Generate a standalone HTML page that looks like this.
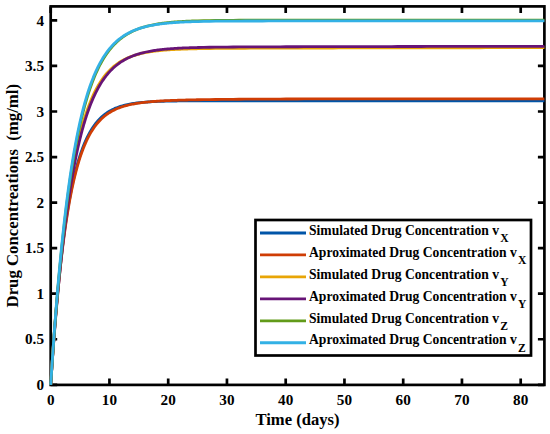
<!DOCTYPE html>
<html><head><meta charset="utf-8"><style>
html,body{margin:0;padding:0;background:#fff;width:550px;height:434px;overflow:hidden}
svg{display:block}
text{font-family:"Liberation Serif",serif}
</style></head><body>
<svg width="550" height="434" viewBox="0 0 550 434"><rect width="550" height="434" fill="#fff"/><path d="M50.70,384.90V378.40M50.70,6.40V12.90M109.45,384.90V378.40M109.45,6.40V12.90M168.20,384.90V378.40M168.20,6.40V12.90M226.95,384.90V378.40M226.95,6.40V12.90M285.70,384.90V378.40M285.70,6.40V12.90M344.45,384.90V378.40M344.45,6.40V12.90M403.20,384.90V378.40M403.20,6.40V12.90M461.95,384.90V378.40M461.95,6.40V12.90M520.70,384.90V378.40M520.70,6.40V12.90M50.70,384.80H57.20M544.40,384.80H537.90M50.70,339.25H57.20M544.40,339.25H537.90M50.70,293.70H57.20M544.40,293.70H537.90M50.70,248.15H57.20M544.40,248.15H537.90M50.70,202.60H57.20M544.40,202.60H537.90M50.70,157.05H57.20M544.40,157.05H537.90M50.70,111.50H57.20M544.40,111.50H537.90M50.70,65.95H57.20M544.40,65.95H537.90M50.70,20.40H57.20M544.40,20.40H537.90" stroke="#000" stroke-width="2.7" fill="none"/><rect x="50.7" y="6.4" width="493.70" height="378.50" fill="none" stroke="#000" stroke-width="2.7" stroke-linejoin="miter"/><g fill="none" stroke-linejoin="round" stroke-linecap="butt"><path d="M50.70,384.80 L50.99,380.15 L51.29,375.58 L51.58,371.08 L51.88,366.66 L52.17,362.31 L52.46,358.03 L52.76,353.82 L53.05,349.67 L53.34,345.60 L53.64,341.59 L53.93,337.65 L54.23,333.78 L54.52,329.96 L54.81,326.21 L55.11,322.52 L55.40,318.89 L55.69,315.32 L55.99,311.81 L56.28,308.36 L56.58,304.96 L56.87,301.62 L57.16,298.33 L57.46,295.10 L57.75,291.92 L58.04,288.79 L58.34,285.71 L58.63,282.69 L58.93,279.71 L59.22,276.78 L59.51,273.90 L59.81,271.07 L60.10,268.28 L60.39,265.54 L60.69,262.84 L60.98,260.19 L61.28,257.58 L61.57,255.01 L61.86,252.49 L62.16,250.00 L62.45,247.56 L62.74,245.16 L63.04,242.80 L63.33,240.47 L63.62,238.18 L63.92,235.94 L64.21,233.72 L64.51,231.55 L64.80,229.41 L65.09,227.30 L65.39,225.23 L65.68,223.19 L65.97,221.19 L66.27,219.22 L66.56,217.28 L66.86,215.37 L67.15,213.50 L67.44,211.65 L67.74,209.84 L68.03,208.05 L68.32,206.30 L68.62,204.57 L68.91,202.87 L69.21,201.20 L69.50,199.56 L69.79,197.94 L70.09,196.35 L70.38,194.78 L70.67,193.24 L70.97,191.73 L71.26,190.24 L71.56,188.78 L71.85,187.34 L72.14,185.92 L72.44,184.53 L72.73,183.16 L73.02,181.81 L73.32,180.48 L73.61,179.18 L73.91,177.89 L74.20,176.63 L74.49,175.39 L74.79,174.17 L75.08,172.97 L75.37,171.78 L75.67,170.62 L75.96,169.48 L76.26,168.35 L76.55,167.25 L76.84,166.16 L77.14,165.09 L77.43,164.04 L77.72,163.00 L78.02,161.98 L78.31,160.98 L78.61,159.99 L78.90,159.02 L79.19,158.07 L79.49,157.13 L79.78,156.21 L80.07,155.30 L80.37,154.41 L80.66,153.53 L80.96,152.67 L81.25,151.82 L81.54,150.98 L81.84,150.16 L82.13,149.35 L82.42,148.56 L82.72,147.77 L83.01,147.00 L83.31,146.25 L83.60,145.50 L83.89,144.77 L84.19,144.05 L84.48,143.34 L84.77,142.64 L85.07,141.96 L85.36,141.28 L85.66,140.62 L85.95,139.97 L86.24,139.33 L87.42,136.86 L88.59,134.56 L89.77,132.40 L90.94,130.38 L92.12,128.48 L93.29,126.71 L94.47,125.05 L95.64,123.50 L96.82,122.05 L97.99,120.69 L99.17,119.42 L100.34,118.22 L101.52,117.11 L102.69,116.06 L103.87,115.08 L105.04,114.17 L106.22,113.31 L107.39,112.51 L108.57,111.76 L109.74,111.06 L110.92,110.40 L112.09,109.78 L113.27,109.20 L114.44,108.66 L115.62,108.16 L116.79,107.69 L117.97,107.24 L119.14,106.83 L120.32,106.44 L121.49,106.08 L122.67,105.74 L123.84,105.42 L125.02,105.12 L126.19,104.84 L127.37,104.58 L128.54,104.33 L129.72,104.11 L130.89,103.89 L132.07,103.69 L133.24,103.50 L134.42,103.33 L135.59,103.16 L136.77,103.01 L137.94,102.86 L139.12,102.73 L140.29,102.60 L141.47,102.48 L142.64,102.37 L143.82,102.27 L144.99,102.17 L146.17,102.08 L147.34,102.00 L148.52,101.92 L149.69,101.84 L150.87,101.77 L152.04,101.71 L153.22,101.65 L154.39,101.59 L155.57,101.54 L156.74,101.49 L157.92,101.44 L159.09,101.39 L160.27,101.35 L161.44,101.31 L162.62,101.28 L163.79,101.25 L164.97,101.21 L166.14,101.18 L167.32,101.16 L168.49,101.13 L169.67,101.11 L170.84,101.08 L172.02,101.06 L173.19,101.04 L174.37,101.02 L175.54,101.01 L176.72,100.99 L177.89,100.97 L179.07,100.96 L180.24,100.95 L181.42,100.93 L182.59,100.92 L183.77,100.91 L184.94,100.90 L186.12,100.89 L187.29,100.88 L188.47,100.87 L189.64,100.87 L190.82,100.86 L191.99,100.85 L193.17,100.85 L194.34,100.84 L195.52,100.83 L196.69,100.83 L197.87,100.82 L203.74,100.80 L209.62,100.79 L215.49,100.78 L221.37,100.77 L227.24,100.76 L233.12,100.76 L238.99,100.76 L244.87,100.76 L250.74,100.75 L256.62,100.75 L262.49,100.75 L268.37,100.75 L274.24,100.75 L280.12,100.75 L285.99,100.75 L291.87,100.75 L297.74,100.75 L303.62,100.75 L309.49,100.75 L315.37,100.75 L321.24,100.75 L327.12,100.75 L332.99,100.75 L338.87,100.75 L344.74,100.75 L350.62,100.75 L356.49,100.75 L362.37,100.75 L368.24,100.75 L374.12,100.75 L379.99,100.75 L385.87,100.75 L391.74,100.75 L397.62,100.75 L403.49,100.75 L409.37,100.75 L415.24,100.75 L421.12,100.75 L426.99,100.75 L432.87,100.75 L438.74,100.75 L444.62,100.75 L450.49,100.75 L456.37,100.75 L462.24,100.75 L468.12,100.75 L473.99,100.75 L479.87,100.75 L485.74,100.75 L491.62,100.75 L497.49,100.75 L503.37,100.75 L509.24,100.75 L515.12,100.75 L520.99,100.75 L526.87,100.75 L532.74,100.75 L538.62,100.75 L544.40,100.75" stroke="#0055A8" stroke-width="2.8"/><path d="M50.70,384.80 L50.99,380.20 L51.29,375.68 L51.58,371.23 L51.88,366.86 L52.17,362.55 L52.46,358.32 L52.76,354.15 L53.05,350.06 L53.34,346.03 L53.64,342.07 L53.93,338.17 L54.23,334.33 L54.52,330.56 L54.81,326.85 L55.11,323.20 L55.40,319.61 L55.69,316.08 L55.99,312.61 L56.28,309.19 L56.58,305.83 L56.87,302.53 L57.16,299.27 L57.46,296.08 L57.75,292.93 L58.04,289.83 L58.34,286.79 L58.63,283.80 L58.93,280.85 L59.22,277.95 L59.51,275.10 L59.81,272.30 L60.10,269.54 L60.39,266.83 L60.69,264.16 L60.98,261.54 L61.28,258.95 L61.57,256.41 L61.86,253.91 L62.16,251.46 L62.45,249.04 L62.74,246.66 L63.04,244.32 L63.33,242.02 L63.62,239.75 L63.92,237.53 L64.21,235.34 L64.51,233.18 L64.80,231.06 L65.09,228.98 L65.39,226.92 L65.68,224.91 L65.97,222.92 L66.27,220.97 L66.56,219.05 L66.86,217.16 L67.15,215.30 L67.44,213.47 L67.74,211.67 L68.03,209.90 L68.32,208.16 L68.62,206.44 L68.91,204.76 L69.21,203.10 L69.50,201.47 L69.79,199.87 L70.09,198.29 L70.38,196.73 L70.67,195.21 L70.97,193.70 L71.26,192.23 L71.56,190.77 L71.85,189.34 L72.14,187.93 L72.44,186.55 L72.73,185.18 L73.02,183.84 L73.32,182.53 L73.61,181.23 L73.91,179.95 L74.20,178.70 L74.49,177.46 L74.79,176.25 L75.08,175.05 L75.37,173.87 L75.67,172.72 L75.96,171.58 L76.26,170.46 L76.55,169.35 L76.84,168.27 L77.14,167.20 L77.43,166.15 L77.72,165.12 L78.02,164.10 L78.31,163.10 L78.61,162.12 L78.90,161.15 L79.19,160.20 L79.49,159.26 L79.78,158.34 L80.07,157.44 L80.37,156.54 L80.66,155.66 L80.96,154.80 L81.25,153.95 L81.54,153.11 L81.84,152.29 L82.13,151.48 L82.42,150.69 L82.72,149.90 L83.01,149.13 L83.31,148.37 L83.60,147.62 L83.89,146.89 L84.19,146.17 L84.48,145.46 L84.77,144.76 L85.07,144.07 L85.36,143.39 L85.66,142.72 L85.95,142.07 L86.24,141.42 L87.42,138.94 L88.59,136.61 L89.77,134.43 L90.94,132.38 L92.12,130.46 L93.29,128.66 L94.47,126.97 L95.64,125.39 L96.82,123.90 L97.99,122.50 L99.17,121.19 L100.34,119.96 L101.52,118.80 L102.69,117.72 L103.87,116.70 L105.04,115.74 L106.22,114.84 L107.39,113.99 L108.57,113.20 L109.74,112.45 L110.92,111.75 L112.09,111.09 L113.27,110.47 L114.44,109.88 L115.62,109.33 L116.79,108.81 L117.97,108.32 L119.14,107.86 L120.32,107.43 L121.49,107.02 L122.67,106.63 L123.84,106.27 L125.02,105.93 L126.19,105.60 L127.37,105.30 L128.54,105.01 L129.72,104.74 L130.89,104.48 L132.07,104.24 L133.24,104.01 L134.42,103.79 L135.59,103.58 L136.77,103.39 L137.94,103.20 L139.12,103.03 L140.29,102.86 L141.47,102.71 L142.64,102.56 L143.82,102.42 L144.99,102.28 L146.17,102.15 L147.34,102.03 L148.52,101.92 L149.69,101.81 L150.87,101.70 L152.04,101.60 L153.22,101.51 L154.39,101.42 L155.57,101.33 L156.74,101.25 L157.92,101.17 L159.09,101.09 L160.27,101.02 L161.44,100.95 L162.62,100.89 L163.79,100.82 L164.97,100.76 L166.14,100.71 L167.32,100.65 L168.49,100.60 L169.67,100.55 L170.84,100.50 L172.02,100.45 L173.19,100.41 L174.37,100.36 L175.54,100.32 L176.72,100.28 L177.89,100.24 L179.07,100.20 L180.24,100.17 L181.42,100.13 L182.59,100.10 L183.77,100.07 L184.94,100.03 L186.12,100.00 L187.29,99.98 L188.47,99.95 L189.64,99.92 L190.82,99.89 L191.99,99.87 L193.17,99.84 L194.34,99.82 L195.52,99.79 L196.69,99.77 L197.87,99.75 L203.74,99.65 L209.62,99.56 L215.49,99.48 L221.37,99.42 L227.24,99.36 L233.12,99.30 L238.99,99.26 L244.87,99.21 L250.74,99.18 L256.62,99.14 L262.49,99.11 L268.37,99.08 L274.24,99.06 L280.12,99.04 L285.99,99.02 L291.87,99.00 L297.74,98.98 L303.62,98.97 L309.49,98.96 L315.37,98.95 L321.24,98.93 L327.12,98.93 L332.99,98.92 L338.87,98.91 L344.74,98.90 L350.62,98.90 L356.49,98.89 L362.37,98.88 L368.24,98.88 L374.12,98.88 L379.99,98.87 L385.87,98.87 L391.74,98.87 L397.62,98.86 L403.49,98.86 L409.37,98.86 L415.24,98.86 L421.12,98.85 L426.99,98.85 L432.87,98.85 L438.74,98.85 L444.62,98.85 L450.49,98.85 L456.37,98.85 L462.24,98.85 L468.12,98.84 L473.99,98.84 L479.87,98.84 L485.74,98.84 L491.62,98.84 L497.49,98.84 L503.37,98.84 L509.24,98.84 L515.12,98.84 L520.99,98.84 L526.87,98.84 L532.74,98.84 L538.62,98.84 L544.40,98.84" stroke="#CF3D05" stroke-width="2.8"/><path d="M50.70,384.80 L50.99,380.23 L51.29,375.73 L51.58,371.29 L51.88,366.90 L52.17,362.58 L52.46,358.31 L52.76,354.11 L53.05,349.96 L53.34,345.87 L53.64,341.83 L53.93,337.84 L54.23,333.92 L54.52,330.04 L54.81,326.22 L55.11,322.45 L55.40,318.73 L55.69,315.06 L55.99,311.44 L56.28,307.87 L56.58,304.35 L56.87,300.88 L57.16,297.45 L57.46,294.07 L57.75,290.74 L58.04,287.45 L58.34,284.21 L58.63,281.01 L58.93,277.85 L59.22,274.74 L59.51,271.67 L59.81,268.64 L60.10,265.65 L60.39,262.70 L60.69,259.80 L60.98,256.93 L61.28,254.10 L61.57,251.31 L61.86,248.56 L62.16,245.84 L62.45,243.16 L62.74,240.52 L63.04,237.91 L63.33,235.34 L63.62,232.81 L63.92,230.31 L64.21,227.84 L64.51,225.41 L64.80,223.01 L65.09,220.64 L65.39,218.30 L65.68,216.00 L65.97,213.73 L66.27,211.48 L66.56,209.27 L66.86,207.09 L67.15,204.94 L67.44,202.82 L67.74,200.72 L68.03,198.66 L68.32,196.62 L68.62,194.61 L68.91,192.63 L69.21,190.67 L69.50,188.75 L69.79,186.84 L70.09,184.97 L70.38,183.12 L70.67,181.29 L70.97,179.49 L71.26,177.71 L71.56,175.96 L71.85,174.23 L72.14,172.53 L72.44,170.84 L72.73,169.18 L73.02,167.55 L73.32,165.93 L73.61,164.34 L73.91,162.77 L74.20,161.22 L74.49,159.69 L74.79,158.18 L75.08,156.70 L75.37,155.23 L75.67,153.78 L75.96,152.35 L76.26,150.95 L76.55,149.56 L76.84,148.19 L77.14,146.84 L77.43,145.50 L77.72,144.19 L78.02,142.89 L78.31,141.61 L78.61,140.35 L78.90,139.10 L79.19,137.88 L79.49,136.66 L79.78,135.47 L80.07,134.29 L80.37,133.13 L80.66,131.98 L80.96,130.85 L81.25,129.73 L81.54,128.63 L81.84,127.55 L82.13,126.48 L82.42,125.42 L82.72,124.38 L83.01,123.35 L83.31,122.33 L83.60,121.33 L83.89,120.35 L84.19,119.37 L84.48,118.41 L84.77,117.47 L85.07,116.53 L85.36,115.61 L85.66,114.70 L85.95,113.80 L86.24,112.92 L87.42,109.50 L88.59,106.26 L89.77,103.20 L90.94,100.29 L92.12,97.54 L93.29,94.94 L94.47,92.48 L95.64,90.14 L96.82,87.94 L97.99,85.84 L99.17,83.86 L100.34,81.99 L101.52,80.21 L102.69,78.53 L103.87,76.94 L105.04,75.43 L106.22,74.01 L107.39,72.65 L108.57,71.37 L109.74,70.16 L110.92,69.02 L112.09,67.93 L113.27,66.90 L114.44,65.92 L115.62,65.00 L116.79,64.13 L117.97,63.30 L119.14,62.52 L120.32,61.77 L121.49,61.07 L122.67,60.40 L123.84,59.77 L125.02,59.18 L126.19,58.61 L127.37,58.08 L128.54,57.57 L129.72,57.09 L130.89,56.63 L132.07,56.20 L133.24,55.79 L134.42,55.40 L135.59,55.04 L136.77,54.69 L137.94,54.36 L139.12,54.05 L140.29,53.75 L141.47,53.47 L142.64,53.21 L143.82,52.96 L144.99,52.72 L146.17,52.49 L147.34,52.28 L148.52,52.07 L149.69,51.88 L150.87,51.70 L152.04,51.53 L153.22,51.36 L154.39,51.21 L155.57,51.06 L156.74,50.92 L157.92,50.79 L159.09,50.66 L160.27,50.54 L161.44,50.43 L162.62,50.32 L163.79,50.22 L164.97,50.12 L166.14,50.03 L167.32,49.94 L168.49,49.86 L169.67,49.78 L170.84,49.71 L172.02,49.64 L173.19,49.57 L174.37,49.51 L175.54,49.45 L176.72,49.39 L177.89,49.33 L179.07,49.28 L180.24,49.23 L181.42,49.18 L182.59,49.14 L183.77,49.10 L184.94,49.06 L186.12,49.02 L187.29,48.98 L188.47,48.95 L189.64,48.91 L190.82,48.88 L191.99,48.85 L193.17,48.82 L194.34,48.79 L195.52,48.77 L196.69,48.74 L197.87,48.72 L203.74,48.61 L209.62,48.53 L215.49,48.46 L221.37,48.40 L227.24,48.36 L233.12,48.32 L238.99,48.28 L244.87,48.25 L250.74,48.22 L256.62,48.20 L262.49,48.18 L268.37,48.16 L274.24,48.14 L280.12,48.12 L285.99,48.10 L291.87,48.09 L297.74,48.07 L303.62,48.05 L309.49,48.04 L315.37,48.03 L321.24,48.01 L327.12,48.00 L332.99,47.98 L338.87,47.97 L344.74,47.96 L350.62,47.95 L356.49,47.93 L362.37,47.92 L368.24,47.91 L374.12,47.90 L379.99,47.89 L385.87,47.88 L391.74,47.87 L397.62,47.86 L403.49,47.85 L409.37,47.84 L415.24,47.83 L421.12,47.82 L426.99,47.81 L432.87,47.80 L438.74,47.79 L444.62,47.78 L450.49,47.77 L456.37,47.76 L462.24,47.76 L468.12,47.75 L473.99,47.74 L479.87,47.73 L485.74,47.72 L491.62,47.72 L497.49,47.71 L503.37,47.70 L509.24,47.70 L515.12,47.69 L520.99,47.68 L526.87,47.68 L532.74,47.67 L538.62,47.66 L544.40,47.66" stroke="#E8A506" stroke-width="2.8"/><path d="M50.70,384.80 L50.99,380.41 L51.29,376.08 L51.58,371.80 L51.88,367.58 L52.17,363.42 L52.46,359.31 L52.76,355.25 L53.05,351.25 L53.34,347.29 L53.64,343.39 L53.93,339.54 L54.23,335.74 L54.52,331.99 L54.81,328.29 L55.11,324.64 L55.40,321.03 L55.69,317.47 L55.99,313.96 L56.28,310.49 L56.58,307.07 L56.87,303.69 L57.16,300.36 L57.46,297.07 L57.75,293.82 L58.04,290.61 L58.34,287.45 L58.63,284.33 L58.93,281.24 L59.22,278.20 L59.51,275.20 L59.81,272.24 L60.10,269.31 L60.39,266.43 L60.69,263.58 L60.98,260.76 L61.28,257.99 L61.57,255.25 L61.86,252.55 L62.16,249.88 L62.45,247.24 L62.74,244.64 L63.04,242.08 L63.33,239.55 L63.62,237.05 L63.92,234.58 L64.21,232.14 L64.51,229.74 L64.80,227.37 L65.09,225.03 L65.39,222.72 L65.68,220.44 L65.97,218.19 L66.27,215.96 L66.56,213.77 L66.86,211.61 L67.15,209.47 L67.44,207.36 L67.74,205.28 L68.03,203.23 L68.32,201.20 L68.62,199.20 L68.91,197.23 L69.21,195.28 L69.50,193.35 L69.79,191.46 L70.09,189.58 L70.38,187.73 L70.67,185.91 L70.97,184.10 L71.26,182.33 L71.56,180.57 L71.85,178.84 L72.14,177.13 L72.44,175.44 L72.73,173.77 L73.02,172.13 L73.32,170.51 L73.61,168.91 L73.91,167.33 L74.20,165.77 L74.49,164.23 L74.79,162.71 L75.08,161.21 L75.37,159.72 L75.67,158.26 L75.96,156.82 L76.26,155.40 L76.55,153.99 L76.84,152.61 L77.14,151.24 L77.43,149.89 L77.72,148.55 L78.02,147.24 L78.31,145.94 L78.61,144.65 L78.90,143.39 L79.19,142.14 L79.49,140.91 L79.78,139.69 L80.07,138.49 L80.37,137.30 L80.66,136.13 L80.96,134.98 L81.25,133.84 L81.54,132.72 L81.84,131.61 L82.13,130.51 L82.42,129.43 L82.72,128.36 L83.01,127.31 L83.31,126.27 L83.60,125.24 L83.89,124.23 L84.19,123.23 L84.48,122.24 L84.77,121.27 L85.07,120.30 L85.36,119.36 L85.66,118.42 L85.95,117.49 L86.24,116.58 L87.42,113.05 L88.59,109.70 L89.77,106.52 L90.94,103.50 L92.12,100.63 L93.29,97.91 L94.47,95.33 L95.64,92.88 L96.82,90.55 L97.99,88.35 L99.17,86.25 L100.34,84.27 L101.52,82.38 L102.69,80.59 L103.87,78.89 L105.04,77.28 L106.22,75.75 L107.39,74.30 L108.57,72.92 L109.74,71.61 L110.92,70.37 L112.09,69.19 L113.27,68.07 L114.44,67.01 L115.62,66.00 L116.79,65.04 L117.97,64.13 L119.14,63.27 L120.32,62.45 L121.49,61.67 L122.67,60.94 L123.84,60.24 L125.02,59.57 L126.19,58.94 L127.37,58.34 L128.54,57.77 L129.72,57.23 L130.89,56.72 L132.07,56.23 L133.24,55.77 L134.42,55.33 L135.59,54.92 L136.77,54.52 L137.94,54.15 L139.12,53.79 L140.29,53.45 L141.47,53.13 L142.64,52.82 L143.82,52.53 L144.99,52.26 L146.17,52.00 L147.34,51.75 L148.52,51.51 L149.69,51.29 L150.87,51.07 L152.04,50.87 L153.22,50.68 L154.39,50.50 L155.57,50.32 L156.74,50.16 L157.92,50.00 L159.09,49.85 L160.27,49.71 L161.44,49.58 L162.62,49.45 L163.79,49.33 L164.97,49.21 L166.14,49.10 L167.32,49.00 L168.49,48.90 L169.67,48.80 L170.84,48.71 L172.02,48.63 L173.19,48.55 L174.37,48.47 L175.54,48.39 L176.72,48.32 L177.89,48.26 L179.07,48.19 L180.24,48.13 L181.42,48.08 L182.59,48.02 L183.77,47.97 L184.94,47.92 L186.12,47.87 L187.29,47.83 L188.47,47.78 L189.64,47.74 L190.82,47.70 L191.99,47.66 L193.17,47.63 L194.34,47.59 L195.52,47.56 L196.69,47.53 L197.87,47.50 L203.74,47.37 L209.62,47.27 L215.49,47.18 L221.37,47.11 L227.24,47.06 L233.12,47.01 L238.99,46.97 L244.87,46.93 L250.74,46.90 L256.62,46.87 L262.49,46.85 L268.37,46.83 L274.24,46.81 L280.12,46.79 L285.99,46.77 L291.87,46.75 L297.74,46.74 L303.62,46.72 L309.49,46.70 L315.37,46.69 L321.24,46.68 L327.12,46.66 L332.99,46.65 L338.87,46.64 L344.74,46.62 L350.62,46.61 L356.49,46.60 L362.37,46.59 L368.24,46.57 L374.12,46.56 L379.99,46.55 L385.87,46.54 L391.74,46.53 L397.62,46.52 L403.49,46.51 L409.37,46.50 L415.24,46.49 L421.12,46.48 L426.99,46.47 L432.87,46.46 L438.74,46.45 L444.62,46.44 L450.49,46.43 L456.37,46.42 L462.24,46.42 L468.12,46.41 L473.99,46.40 L479.87,46.39 L485.74,46.38 L491.62,46.38 L497.49,46.37 L503.37,46.36 L509.24,46.35 L515.12,46.35 L520.99,46.34 L526.87,46.33 L532.74,46.33 L538.62,46.32 L544.40,46.31" stroke="#671477" stroke-width="2.8"/><path d="M50.70,384.80 L50.99,380.27 L51.29,375.80 L51.58,371.38 L51.88,367.01 L52.17,362.71 L52.46,358.45 L52.76,354.25 L53.05,350.10 L53.34,346.00 L53.64,341.95 L53.93,337.95 L54.23,334.00 L54.52,330.10 L54.81,326.25 L55.11,322.45 L55.40,318.70 L55.69,314.99 L55.99,311.32 L56.28,307.71 L56.58,304.13 L56.87,300.61 L57.16,297.12 L57.46,293.68 L57.75,290.28 L58.04,286.93 L58.34,283.61 L58.63,280.34 L58.93,277.11 L59.22,273.92 L59.51,270.76 L59.81,267.65 L60.10,264.57 L60.39,261.54 L60.69,258.54 L60.98,255.58 L61.28,252.65 L61.57,249.76 L61.86,246.91 L62.16,244.09 L62.45,241.31 L62.74,238.56 L63.04,235.85 L63.33,233.17 L63.62,230.52 L63.92,227.91 L64.21,225.33 L64.51,222.78 L64.80,220.26 L65.09,217.78 L65.39,215.32 L65.68,212.90 L65.97,210.50 L66.27,208.14 L66.56,205.80 L66.86,203.50 L67.15,201.22 L67.44,198.97 L67.74,196.75 L68.03,194.55 L68.32,192.39 L68.62,190.25 L68.91,188.13 L69.21,186.05 L69.50,183.98 L69.79,181.95 L70.09,179.94 L70.38,177.95 L70.67,175.99 L70.97,174.06 L71.26,172.15 L71.56,170.26 L71.85,168.39 L72.14,166.55 L72.44,164.73 L72.73,162.93 L73.02,161.16 L73.32,159.41 L73.61,157.68 L73.91,155.97 L74.20,154.28 L74.49,152.62 L74.79,150.97 L75.08,149.34 L75.37,147.74 L75.67,146.15 L75.96,144.59 L76.26,143.04 L76.55,141.52 L76.84,140.01 L77.14,138.52 L77.43,137.05 L77.72,135.60 L78.02,134.16 L78.31,132.74 L78.61,131.35 L78.90,129.96 L79.19,128.60 L79.49,127.25 L79.78,125.92 L80.07,124.61 L80.37,123.31 L80.66,122.03 L80.96,120.76 L81.25,119.51 L81.54,118.28 L81.84,117.06 L82.13,115.85 L82.42,114.66 L82.72,113.49 L83.01,112.33 L83.31,111.19 L83.60,110.05 L83.89,108.94 L84.19,107.83 L84.48,106.74 L84.77,105.67 L85.07,104.61 L85.36,103.56 L85.66,102.52 L85.95,101.50 L86.24,100.49 L87.42,96.57 L88.59,92.84 L89.77,89.29 L90.94,85.92 L92.12,82.71 L93.29,79.66 L94.47,76.75 L95.64,73.99 L96.82,71.37 L97.99,68.87 L99.17,66.49 L100.34,64.23 L101.52,62.08 L102.69,60.03 L103.87,58.09 L105.04,56.23 L106.22,54.47 L107.39,52.80 L108.57,51.20 L109.74,49.69 L110.92,48.25 L112.09,46.88 L113.27,45.57 L114.44,44.33 L115.62,43.15 L116.79,42.03 L117.97,40.96 L119.14,39.94 L120.32,38.98 L121.49,38.06 L122.67,37.18 L123.84,36.35 L125.02,35.56 L126.19,34.81 L127.37,34.09 L128.54,33.41 L129.72,32.76 L130.89,32.15 L132.07,31.56 L133.24,31.00 L134.42,30.47 L135.59,29.97 L136.77,29.49 L137.94,29.03 L139.12,28.60 L140.29,28.18 L141.47,27.79 L142.64,27.42 L143.82,27.06 L144.99,26.72 L146.17,26.40 L147.34,26.10 L148.52,25.80 L149.69,25.53 L150.87,25.26 L152.04,25.01 L153.22,24.78 L154.39,24.55 L155.57,24.33 L156.74,24.13 L157.92,23.93 L159.09,23.75 L160.27,23.57 L161.44,23.40 L162.62,23.24 L163.79,23.09 L164.97,22.95 L166.14,22.81 L167.32,22.68 L168.49,22.55 L169.67,22.43 L170.84,22.32 L172.02,22.22 L173.19,22.11 L174.37,22.02 L175.54,21.92 L176.72,21.84 L177.89,21.75 L179.07,21.67 L180.24,21.60 L181.42,21.53 L182.59,21.46 L183.77,21.39 L184.94,21.33 L186.12,21.27 L187.29,21.22 L188.47,21.16 L189.64,21.11 L190.82,21.07 L191.99,21.02 L193.17,20.98 L194.34,20.93 L195.52,20.90 L196.69,20.86 L197.87,20.82 L203.74,20.67 L209.62,20.55 L215.49,20.46 L221.37,20.38 L227.24,20.33 L233.12,20.28 L238.99,20.25 L244.87,20.22 L250.74,20.20 L256.62,20.18 L262.49,20.17 L268.37,20.16 L274.24,20.15 L280.12,20.15 L285.99,20.14 L291.87,20.14 L297.74,20.14 L303.62,20.13 L309.49,20.13 L315.37,20.13 L321.24,20.13 L327.12,20.13 L332.99,20.13 L338.87,20.13 L344.74,20.13 L350.62,20.13 L356.49,20.13 L362.37,20.13 L368.24,20.13 L374.12,20.13 L379.99,20.13 L385.87,20.13 L391.74,20.13 L397.62,20.13 L403.49,20.13 L409.37,20.13 L415.24,20.13 L421.12,20.13 L426.99,20.13 L432.87,20.13 L438.74,20.13 L444.62,20.13 L450.49,20.13 L456.37,20.13 L462.24,20.13 L468.12,20.13 L473.99,20.13 L479.87,20.13 L485.74,20.13 L491.62,20.13 L497.49,20.13 L503.37,20.13 L509.24,20.13 L515.12,20.13 L520.99,20.13 L526.87,20.13 L532.74,20.13 L538.62,20.13 L544.40,20.13" stroke="#629B1A" stroke-width="2.8"/><path d="M50.70,384.80 L50.99,380.15 L51.29,375.57 L51.58,371.04 L51.88,366.57 L52.17,362.16 L52.46,357.80 L52.76,353.50 L53.05,349.25 L53.34,345.06 L53.64,340.92 L53.93,336.84 L54.23,332.81 L54.52,328.82 L54.81,324.89 L55.11,321.01 L55.40,317.18 L55.69,313.40 L55.99,309.66 L56.28,305.98 L56.58,302.34 L56.87,298.75 L57.16,295.20 L57.46,291.70 L57.75,288.24 L58.04,284.83 L58.34,281.46 L58.63,278.13 L58.93,274.85 L59.22,271.61 L59.51,268.41 L59.81,265.25 L60.10,262.13 L60.39,259.05 L60.69,256.01 L60.98,253.01 L61.28,250.04 L61.57,247.12 L61.86,244.23 L62.16,241.38 L62.45,238.57 L62.74,235.79 L63.04,233.05 L63.33,230.34 L63.62,227.66 L63.92,225.02 L64.21,222.42 L64.51,219.85 L64.80,217.31 L65.09,214.80 L65.39,212.32 L65.68,209.88 L65.97,207.47 L66.27,205.09 L66.56,202.74 L66.86,200.42 L67.15,198.12 L67.44,195.86 L67.74,193.63 L68.03,191.42 L68.32,189.25 L68.62,187.10 L68.91,184.98 L69.21,182.88 L69.50,180.82 L69.79,178.77 L70.09,176.76 L70.38,174.77 L70.67,172.81 L70.97,170.87 L71.26,168.95 L71.56,167.06 L71.85,165.20 L72.14,163.36 L72.44,161.54 L72.73,159.74 L73.02,157.97 L73.32,156.22 L73.61,154.49 L73.91,152.79 L74.20,151.10 L74.49,149.44 L74.79,147.80 L75.08,146.18 L75.37,144.58 L75.67,143.01 L75.96,141.45 L76.26,139.91 L76.55,138.39 L76.84,136.89 L77.14,135.41 L77.43,133.95 L77.72,132.51 L78.02,131.08 L78.31,129.67 L78.61,128.29 L78.90,126.92 L79.19,125.56 L79.49,124.23 L79.78,122.91 L80.07,121.61 L80.37,120.32 L80.66,119.05 L80.96,117.80 L81.25,116.56 L81.54,115.34 L81.84,114.14 L82.13,112.95 L82.42,111.77 L82.72,110.61 L83.01,109.47 L83.31,108.34 L83.60,107.22 L83.89,106.12 L84.19,105.03 L84.48,103.96 L84.77,102.90 L85.07,101.85 L85.36,100.82 L85.66,99.80 L85.95,98.79 L86.24,97.80 L87.42,93.95 L88.59,90.29 L89.77,86.82 L90.94,83.52 L92.12,80.38 L93.29,77.40 L94.47,74.58 L95.64,71.89 L96.82,69.34 L97.99,66.91 L99.17,64.61 L100.34,62.42 L101.52,60.34 L102.69,58.37 L103.87,56.50 L105.04,54.71 L106.22,53.02 L107.39,51.42 L108.57,49.89 L109.74,48.44 L110.92,47.06 L112.09,45.75 L113.27,44.51 L114.44,43.33 L115.62,42.21 L116.79,41.14 L117.97,40.13 L119.14,39.17 L120.32,38.26 L121.49,37.39 L122.67,36.57 L123.84,35.78 L125.02,35.04 L126.19,34.33 L127.37,33.66 L128.54,33.03 L129.72,32.42 L130.89,31.85 L132.07,31.30 L133.24,30.78 L134.42,30.29 L135.59,29.82 L136.77,29.38 L137.94,28.95 L139.12,28.55 L140.29,28.17 L141.47,27.81 L142.64,27.47 L143.82,27.14 L144.99,26.83 L146.17,26.53 L147.34,26.25 L148.52,25.99 L149.69,25.74 L150.87,25.50 L152.04,25.27 L153.22,25.05 L154.39,24.85 L155.57,24.65 L156.74,24.46 L157.92,24.29 L159.09,24.12 L160.27,23.96 L161.44,23.81 L162.62,23.67 L163.79,23.53 L164.97,23.40 L166.14,23.28 L167.32,23.16 L168.49,23.05 L169.67,22.95 L170.84,22.85 L172.02,22.75 L173.19,22.66 L174.37,22.57 L175.54,22.49 L176.72,22.41 L177.89,22.34 L179.07,22.27 L180.24,22.21 L181.42,22.14 L182.59,22.08 L183.77,22.03 L184.94,21.97 L186.12,21.92 L187.29,21.87 L188.47,21.82 L189.64,21.78 L190.82,21.74 L191.99,21.70 L193.17,21.66 L194.34,21.63 L195.52,21.59 L196.69,21.56 L197.87,21.53 L203.74,21.40 L209.62,21.29 L215.49,21.22 L221.37,21.15 L227.24,21.11 L233.12,21.07 L238.99,21.04 L244.87,21.02 L250.74,21.00 L256.62,20.99 L262.49,20.98 L268.37,20.97 L274.24,20.97 L280.12,20.96 L285.99,20.96 L291.87,20.96 L297.74,20.95 L303.62,20.95 L309.49,20.95 L315.37,20.95 L321.24,20.95 L327.12,20.95 L332.99,20.95 L338.87,20.95 L344.74,20.95 L350.62,20.95 L356.49,20.95 L362.37,20.95 L368.24,20.95 L374.12,20.95 L379.99,20.95 L385.87,20.95 L391.74,20.95 L397.62,20.95 L403.49,20.95 L409.37,20.95 L415.24,20.95 L421.12,20.95 L426.99,20.95 L432.87,20.95 L438.74,20.95 L444.62,20.95 L450.49,20.95 L456.37,20.95 L462.24,20.95 L468.12,20.95 L473.99,20.95 L479.87,20.95 L485.74,20.95 L491.62,20.95 L497.49,20.95 L503.37,20.95 L509.24,20.95 L515.12,20.95 L520.99,20.95 L526.87,20.95 L532.74,20.95 L538.62,20.95 L544.40,20.95" stroke="#33B1E5" stroke-width="2.8"/></g><g font-family="Liberation Serif" font-weight="bold" font-size="15.2" fill="#000"><text x="50.70" y="405.1" text-anchor="middle">0</text><text x="109.45" y="405.1" text-anchor="middle">10</text><text x="168.20" y="405.1" text-anchor="middle">20</text><text x="226.95" y="405.1" text-anchor="middle">30</text><text x="285.70" y="405.1" text-anchor="middle">40</text><text x="344.45" y="405.1" text-anchor="middle">50</text><text x="403.20" y="405.1" text-anchor="middle">60</text><text x="461.95" y="405.1" text-anchor="middle">70</text><text x="520.70" y="405.1" text-anchor="middle">80</text><text x="44.0" y="390.00" text-anchor="end">0</text><text x="44.0" y="344.45" text-anchor="end">0.5</text><text x="44.0" y="298.90" text-anchor="end">1</text><text x="44.0" y="253.35" text-anchor="end">1.5</text><text x="44.0" y="207.80" text-anchor="end">2</text><text x="44.0" y="162.25" text-anchor="end">2.5</text><text x="44.0" y="116.70" text-anchor="end">3</text><text x="44.0" y="71.15" text-anchor="end">3.5</text><text x="44.0" y="25.60" text-anchor="end">4</text></g><text x="297.5" y="425" text-anchor="middle" font-family="Liberation Serif" font-weight="bold" font-size="16.6">Time (days)</text><text transform="translate(17.8,195.7) rotate(-90)" x="0" y="0" text-anchor="middle" font-family="Liberation Serif" font-weight="bold" font-size="16.75" xml:space="preserve">Drug Concentreations  (mg/ml)</text><rect x="255.5" y="220.0" width="275.5" height="135.5" fill="#fff" stroke="#000" stroke-width="2.7"/><path d="M260,233.00H306" stroke="#0055A8" stroke-width="2.8"/><text x="309" y="234.70" font-family="Liberation Serif" font-weight="bold" font-size="13.6">Simulated Drug Concentration v<tspan font-size="11.6" dx="1.2" dy="7.3">X</tspan></text><path d="M260,254.95H306" stroke="#CF3D05" stroke-width="2.8"/><text x="309" y="256.65" font-family="Liberation Serif" font-weight="bold" font-size="13.6">Aproximated Drug Concentration v<tspan font-size="11.6" dx="1.2" dy="7.3">X</tspan></text><path d="M260,276.90H306" stroke="#E8A506" stroke-width="2.8"/><text x="309" y="278.60" font-family="Liberation Serif" font-weight="bold" font-size="13.6">Simulated Drug Concentration v<tspan font-size="11.6" dx="1.2" dy="7.3">Y</tspan></text><path d="M260,298.85H306" stroke="#671477" stroke-width="2.8"/><text x="309" y="300.55" font-family="Liberation Serif" font-weight="bold" font-size="13.6">Aproximated Drug Concentration v<tspan font-size="11.6" dx="1.2" dy="7.3">Y</tspan></text><path d="M260,320.80H306" stroke="#629B1A" stroke-width="2.8"/><text x="309" y="322.50" font-family="Liberation Serif" font-weight="bold" font-size="13.6">Simulated Drug Concentration v<tspan font-size="11.6" dx="1.2" dy="7.3">Z</tspan></text><path d="M260,342.75H306" stroke="#33B1E5" stroke-width="2.8"/><text x="309" y="344.45" font-family="Liberation Serif" font-weight="bold" font-size="13.6">Aproximated Drug Concentration v<tspan font-size="11.6" dx="1.2" dy="7.3">Z</tspan></text></svg>
</body></html>
